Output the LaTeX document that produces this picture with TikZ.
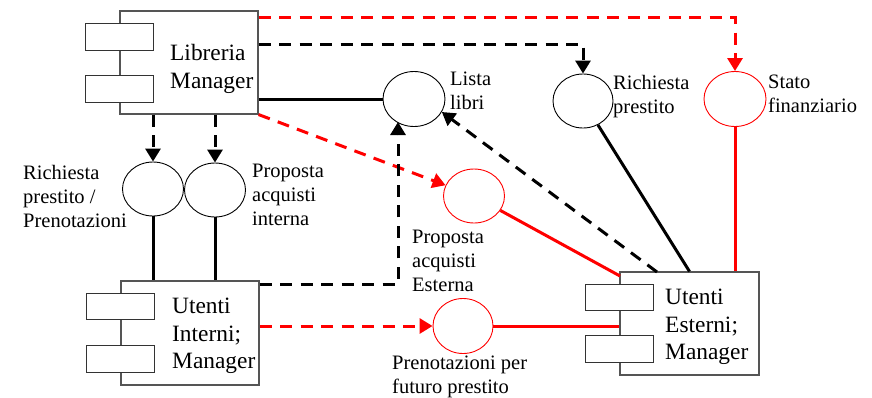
\documentclass[tikz,border=0pt]{standalone}
\usepackage{fontspec}
\setmainfont{Liberation Serif}
\usetikzlibrary{arrows.meta,shapes.geometric,calc}
\definecolor{boxgray}{HTML}{555555}
\definecolor{portgray}{HTML}{333333}
\begin{document}
\begin{tikzpicture}[x=1pt,y=-1pt,
  comp/.style={draw=boxgray,line width=1.1pt,fill=white,minimum width=138pt,minimum height=103pt,inner sep=0pt},
  port/.style={draw=portgray,line width=1pt,fill=white,minimum width=68pt,minimum height=26.5pt,inner sep=0pt},
  iface/.style={ellipse,draw,line width=0.9pt,minimum width=61pt,minimum height=54pt,inner sep=0pt},
  riface/.style={iface,draw=red},
  boxtxt/.style={font=\fontsize{23.4}{27.5}\selectfont,align=left,inner sep=0pt,anchor=west},
  lbl/.style={font=\fontsize{20.5}{24}\selectfont,align=left,inner sep=0pt,anchor=west},
  conn/.style={line width=3pt},
  dsh/.style={conn,dash pattern=on 12pt off 8.5pt},
  tip/.style={-{Triangle[width=15pt,length=13pt]}}
]
\useasboundingbox (0,0) rectangle (872,397);

% components
\node[comp] (lib) at (189,62.5) {};
\node[port] (libp1) at (lib.west |- 0,37) {};
\node[port] (libp2) at (lib.west |- 0,89) {};
\node[boxtxt] (libt) at (170,69) {Libreria\\Manager};

\node[comp,minimum height=104pt] (ui) at (190,333) {};
\node[port] (uip1) at (ui.west |- 0,306.5) {};
\node[port] (uip2) at (ui.west |- 0,359) {};
\node[boxtxt] (uit) at (172,336) {Utenti\\Interni;\\Manager};

\node[comp,minimum width=139pt] (ue) at (689.5,323.5) {};
\node[port] (uep1) at (ue.west |- 0,297.5) {};
\node[port] (uep2) at (ue.west |- 0,349) {};
\node[boxtxt] (uet) at (665,327) {Utenti\\Esterni;\\Manager};

% interfaces
\node[iface] (rpp) at (153,189) {};
\node[iface] (pai) at (215,190) {};
\node[iface,minimum width=62pt,minimum height=55pt] (ll) at (414,99) {};
\node[iface,minimum width=60pt] (rp) at (583,101) {};
\node[riface,minimum width=62pt,minimum height=55pt] (stato) at (735,99) {};
\node[riface] (pae) at (474,196) {};
\node[riface,minimum width=60pt,minimum height=55pt] (pf) at (463,326) {};

% labels
\node[lbl] (llt) at (450,91) {Lista\\libri};
\node[lbl] (rpt) at (613,97) {Richiesta\\prestito};
\node[lbl] (statot) at (768,94) {Stato\\finanziario};
\node[lbl] (rppt) at (23,196) {Richiesta\\prestito /\\Prenotazioni};
\node[lbl] (pait) at (252,195) {Proposta\\acquisti\\interna};
\node[lbl] (paet) at (412,261) {Proposta\\acquisti\\Esterna};
\node[lbl] (pft) at (392,377) {Prenotazioni per\\futuro prestito};

% helper coordinates
\coordinate (yred) at (0,17);
\coordinate (yblk) at (0,44);
\coordinate (yui) at (0,284);
\coordinate (uiup) at (398,122);
\coordinate (uedash) at (657,272);
\coordinate (uered) at (620,276);

% connectors
\draw[dsh,red,tip] (lib.east |- yred) -| (stato.north);
\draw[dsh,tip] (lib.east |- yblk) -| (rp.north);
\draw[conn] (lib.east |- ll.west) -- (ll.west);
\draw[dsh,red,tip] (lib.south east) -- (pae);
\draw[dsh,tip] (lib.south -| rpp.north) -- (rpp.north);
\draw[dsh,tip] (lib.south -| pai.north) -- (pai.north);
\draw[conn] (rpp.south) -- (ui.north -| rpp.south);
\draw[conn] (pai.south) -- (ui.north -| pai.south);
\draw[dsh,tip] (ui.east |- yui) -| (uiup);
\draw[dsh,red,tip] (ui.east |- pf.west) -- (pf.west);
\draw[conn,red] (pf.east) -- (ue.west |- pf.east);
\draw[conn,red] (pae) -- (uered);
\draw[dsh,tip] (uedash) -- (ll.335);
\draw[conn] (rp) -- (ue.north);
\draw[conn,red] (stato.south) -- (stato.south |- ue.north);
\end{tikzpicture}
\end{document}
